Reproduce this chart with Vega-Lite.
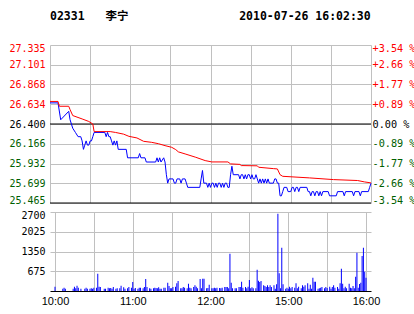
{
  "$schema": "https://vega.github.io/schema/vega-lite/v6.json",
  "padding": {"left": 8, "top": 10, "right": 0, "bottom": 0},
  "background": "white",
  "spacing": 4,
  "config": {
    "view": {"stroke": null},
    "axis": {"gridColor": "#c0c0c0", "gridOpacity": 1, "gridWidth": 1, "ticks": false, "domain": false, "title": null, "labelFont": "DejaVu Sans Mono", "labelFontSize": 10, "labelColor": "#000000", "labelOverlap": false, "labelBound": false, "zindex": 0}
  },
  "datasets": {
    "price": [
      {"m":0,"p":26.65},{"m":6,"p":26.65},{"m":8,"p":26.45},{"m":14,"p":26.55},{"m":15,"p":26.45},{"m":17,"p":26.35},{"m":19,"p":26.30},{"m":21,"p":26.25},{"m":23,"p":26.25},{"m":24,"p":26.20},{"m":25,"p":26.10},{"m":26,"p":26.15},{"m":27,"p":26.20},{"m":28,"p":26.15},{"m":29,"p":26.15},{"m":30,"p":26.20},{"m":31,"p":26.20},{"m":32,"p":26.25},{"m":33,"p":26.30},{"m":41,"p":26.30},{"m":42,"p":26.25},{"m":43,"p":26.30},{"m":44,"p":26.25},{"m":45,"p":26.25},{"m":46,"p":26.20},{"m":47,"p":26.15},{"m":48,"p":26.20},{"m":49,"p":26.15},{"m":50,"p":26.20},{"m":51,"p":26.10},{"m":57,"p":26.10},{"m":58,"p":26.00},{"m":66,"p":26.00},{"m":67,"p":26.05},{"m":68,"p":26.00},{"m":71,"p":26.00},{"m":72,"p":25.95},{"m":79,"p":25.95},{"m":80,"p":26.00},{"m":81,"p":25.95},{"m":82,"p":26.00},{"m":83,"p":25.95},{"m":85,"p":26.00},{"m":86,"p":25.95},{"m":87,"p":25.80},{"m":88,"p":25.70},{"m":89,"p":25.75},{"m":92,"p":25.75},{"m":93,"p":25.70},{"m":94,"p":25.70},{"m":95,"p":25.75},{"m":97,"p":25.75},{"m":98,"p":25.70},{"m":99,"p":25.75},{"m":101,"p":25.75},{"m":102,"p":25.70},{"m":103,"p":25.65},{"m":112,"p":25.65},{"m":113,"p":25.75},{"m":114,"p":25.85},{"m":115,"p":25.70},{"m":117,"p":25.70},{"m":118,"p":25.65},{"m":119,"p":25.70},{"m":120,"p":25.65},{"m":121,"p":25.70},{"m":122,"p":25.70},{"m":123,"p":25.65},{"m":124,"p":25.70},{"m":125,"p":25.65},{"m":126,"p":25.70},{"m":127,"p":25.70},{"m":128,"p":25.65},{"m":129,"p":25.70},{"m":130,"p":25.65},{"m":131,"p":25.70},{"m":132,"p":25.70},{"m":133,"p":25.65},{"m":134,"p":25.65},{"m":135,"p":25.80},{"m":136,"p":25.90},{"m":137,"p":25.80},{"m":141,"p":25.80},{"m":142,"p":25.75},{"m":143,"p":25.80},{"m":144,"p":25.80},{"m":145,"p":25.75},{"m":146,"p":25.80},{"m":147,"p":25.75},{"m":148,"p":25.80},{"m":149,"p":25.80},{"m":150,"p":25.75},{"m":151,"p":25.80},{"m":152,"p":25.75},{"m":153,"p":25.75},{"m":154,"p":25.80},{"m":155,"p":25.75},{"m":156,"p":25.70},{"m":157,"p":25.75},{"m":158,"p":25.70},{"m":159,"p":25.75},{"m":160,"p":25.70},{"m":161,"p":25.75},{"m":162,"p":25.70},{"m":163,"p":25.75},{"m":164,"p":25.70},{"m":167,"p":25.70},{"m":168,"p":25.75},{"m":169,"p":25.75},{"m":170,"p":25.70},{"m":171,"p":25.70},{"m":172,"p":25.55},{"m":173,"p":25.55},{"m":174,"p":25.60},{"m":175,"p":25.65},{"m":177,"p":25.65},{"m":178,"p":25.60},{"m":180,"p":25.60},{"m":181,"p":25.65},{"m":182,"p":25.65},{"m":183,"p":25.60},{"m":184,"p":25.65},{"m":185,"p":25.65},{"m":186,"p":25.60},{"m":187,"p":25.65},{"m":192,"p":25.65},{"m":193,"p":25.60},{"m":194,"p":25.60},{"m":195,"p":25.55},{"m":196,"p":25.60},{"m":197,"p":25.60},{"m":198,"p":25.55},{"m":199,"p":25.60},{"m":200,"p":25.60},{"m":201,"p":25.55},{"m":202,"p":25.60},{"m":203,"p":25.55},{"m":204,"p":25.60},{"m":208,"p":25.60},{"m":209,"p":25.55},{"m":214,"p":25.55},{"m":215,"p":25.60},{"m":219,"p":25.60},{"m":220,"p":25.55},{"m":221,"p":25.60},{"m":226,"p":25.60},{"m":227,"p":25.55},{"m":228,"p":25.60},{"m":231,"p":25.60},{"m":232,"p":25.55},{"m":233,"p":25.60},{"m":238,"p":25.60},{"m":239,"p":25.65},{"m":240,"p":25.70}
    ],
    "avg": [
      {"m":0,"a":26.667},{"m":6,"a":26.667},{"m":7,"a":26.61},{"m":14,"a":26.61},{"m":15,"a":26.57},{"m":17,"a":26.50},{"m":24,"a":26.46},{"m":29,"a":26.43},{"m":32,"a":26.40},{"m":33,"a":26.31},{"m":45,"a":26.31},{"m":49,"a":26.30},{"m":55,"a":26.28},{"m":59,"a":26.254},{"m":65,"a":26.235},{"m":70,"a":26.195},{"m":76,"a":26.183},{"m":81,"a":26.167},{"m":86,"a":26.144},{"m":91,"a":26.124},{"m":94,"a":26.097},{"m":96,"a":26.07},{"m":101,"a":26.046},{"m":109,"a":26.006},{"m":116,"a":25.967},{"m":121,"a":25.951},{"m":133,"a":25.951},{"m":135,"a":25.928},{"m":142,"a":25.922},{"m":143,"a":25.908},{"m":155,"a":25.905},{"m":156,"a":25.888},{"m":167,"a":25.872},{"m":170,"a":25.868},{"m":172,"a":25.80},{"m":174,"a":25.781},{"m":194,"a":25.762},{"m":212,"a":25.742},{"m":230,"a":25.731},{"m":235,"a":25.715},{"m":240,"a":25.703}
    ],
    "refs": [{"v": 26.4}, {"v": 25.465}],
    "vol": [
      {"m":0,"v":148},{"m":6,"v":80},{"m":7,"v":114},{"m":8,"v":80},{"m":14,"v":80},{"m":15,"v":148},{"m":16,"v":91},{"m":17,"v":182},{"m":18,"v":114},{"m":20,"v":80},{"m":23,"v":80},{"m":24,"v":114},{"m":25,"v":80},{"m":27,"v":80},{"m":28,"v":91},{"m":29,"v":80},{"m":30,"v":114},{"m":32,"v":114},{"m":33,"v":592},{"m":34,"v":148},{"m":35,"v":137},{"m":38,"v":80},{"m":39,"v":80},{"m":41,"v":114},{"m":42,"v":91},{"m":43,"v":102},{"m":44,"v":80},{"m":45,"v":137},{"m":47,"v":80},{"m":48,"v":91},{"m":50,"v":91},{"m":51,"v":182},{"m":53,"v":125},{"m":54,"v":80},{"m":56,"v":91},{"m":57,"v":137},{"m":59,"v":114},{"m":60,"v":307},{"m":61,"v":80},{"m":62,"v":102},{"m":64,"v":80},{"m":65,"v":114},{"m":66,"v":114},{"m":68,"v":91},{"m":69,"v":137},{"m":70,"v":410},{"m":71,"v":137},{"m":73,"v":91},{"m":74,"v":80},{"m":76,"v":91},{"m":77,"v":114},{"m":78,"v":102},{"m":79,"v":91},{"m":80,"v":125},{"m":81,"v":80},{"m":82,"v":80},{"m":84,"v":114},{"m":85,"v":114},{"m":87,"v":285},{"m":88,"v":171},{"m":89,"v":91},{"m":90,"v":91},{"m":91,"v":137},{"m":93,"v":148},{"m":94,"v":262},{"m":95,"v":342},{"m":97,"v":91},{"m":98,"v":91},{"m":99,"v":137},{"m":100,"v":114},{"m":102,"v":91},{"m":103,"v":250},{"m":104,"v":114},{"m":105,"v":91},{"m":107,"v":137},{"m":108,"v":194},{"m":109,"v":148},{"m":110,"v":91},{"m":112,"v":410},{"m":113,"v":91},{"m":114,"v":421},{"m":115,"v":421},{"m":117,"v":91},{"m":118,"v":102},{"m":119,"v":216},{"m":121,"v":91},{"m":122,"v":91},{"m":123,"v":114},{"m":124,"v":91},{"m":125,"v":114},{"m":127,"v":102},{"m":128,"v":91},{"m":129,"v":114},{"m":131,"v":137},{"m":132,"v":137},{"m":133,"v":137},{"m":134,"v":91},{"m":135,"v":1276},{"m":136,"v":285},{"m":137,"v":91},{"m":139,"v":91},{"m":140,"v":91},{"m":142,"v":137},{"m":143,"v":137},{"m":144,"v":319},{"m":145,"v":114},{"m":147,"v":137},{"m":148,"v":91},{"m":149,"v":148},{"m":150,"v":376},{"m":151,"v":91},{"m":152,"v":125},{"m":153,"v":91},{"m":155,"v":91},{"m":156,"v":729},{"m":157,"v":353},{"m":158,"v":307},{"m":159,"v":342},{"m":161,"v":194},{"m":162,"v":171},{"m":163,"v":137},{"m":164,"v":194},{"m":165,"v":137},{"m":166,"v":194},{"m":167,"v":137},{"m":169,"v":194},{"m":170,"v":80},{"m":171,"v":228},{"m":172,"v":2643},{"m":173,"v":604},{"m":174,"v":91},{"m":175,"v":1481},{"m":176,"v":228},{"m":178,"v":80},{"m":179,"v":114},{"m":180,"v":80},{"m":181,"v":148},{"m":182,"v":91},{"m":183,"v":137},{"m":185,"v":114},{"m":186,"v":262},{"m":187,"v":91},{"m":188,"v":148},{"m":190,"v":91},{"m":191,"v":194},{"m":192,"v":148},{"m":193,"v":194},{"m":195,"v":262},{"m":196,"v":80},{"m":197,"v":216},{"m":198,"v":80},{"m":199,"v":456},{"m":200,"v":319},{"m":201,"v":319},{"m":203,"v":80},{"m":204,"v":91},{"m":205,"v":114},{"m":206,"v":137},{"m":208,"v":91},{"m":209,"v":137},{"m":210,"v":102},{"m":212,"v":148},{"m":213,"v":80},{"m":214,"v":137},{"m":215,"v":194},{"m":216,"v":114},{"m":218,"v":137},{"m":219,"v":80},{"m":220,"v":262},{"m":221,"v":763},{"m":222,"v":250},{"m":223,"v":91},{"m":224,"v":148},{"m":225,"v":91},{"m":227,"v":250},{"m":228,"v":114},{"m":229,"v":91},{"m":230,"v":171},{"m":231,"v":91},{"m":232,"v":490},{"m":233,"v":1310},{"m":234,"v":114},{"m":235,"v":239},{"m":236,"v":285},{"m":237,"v":1200},{"m":238,"v":1480},{"m":239,"v":661},{"m":240,"v":456}
    ]
  },
  "vconcat": [
    {
      "width": 321,
      "height": 158,
      "title": {
        "text": "02331\u00a0\u00a0\u00a0李宁\u00a0\u00a0\u00a0\u00a0\u00a0\u00a0\u00a0\u00a0\u00a0\u00a0\u00a0\u00a0\u00a0\u00a0\u00a0\u00a02010-07-26 16:02:30",
        "anchor": "start",
        "frame": "group",
        "font": "DejaVu Sans Mono, Noto Sans CJK SC",
        "fontSize": 11.5,
        "fontWeight": "bold",
        "color": "#000000",
        "baseline": "alphabetic",
        "offset": 12
      },
      "layer": [
        {
          "data": {"name": "refs"},
          "mark": {"type": "rule", "color": "#000000", "strokeWidth": 1},
          "encoding": {
            "y": {"field": "v", "type": "quantitative", "scale": {"domain": [25.465, 27.335], "nice": false, "zero": false}, "axis": null}
          }
        },
        {
          "data": {"name": "price"},
          "mark": {"type": "line", "color": "#0000ff", "strokeWidth": 1},
          "encoding": {
            "x": {"field": "m", "type": "quantitative", "scale": {"domain": [0, 240], "nice": false, "zero": false},
                  "axis": {"values": [0, 30, 60, 90, 120, 150, 180, 210, 240], "grid": true, "labels": false, "ticks": false, "domain": false, "labelPadding": 0, "minExtent": 0, "maxExtent": 0, "offset": 0}},
            "y": {"field": "p", "type": "quantitative", "scale": {"domain": [25.465, 27.335], "nice": false, "zero": false},
                  "axis": {"orient": "left", "values": [25.465, 25.699, 25.932, 26.166, 26.4, 26.634, 26.868, 27.101, 27.335], "format": ".3f", "grid": true, "labelPadding": 5, "labelFlush": true, "labelFlushOffset": 2,
                           "labelColor": {"condition": [{"test": "datum.value > 26.41", "value": "#ff0000"}, {"test": "datum.value < 26.39", "value": "#006000"}], "value": "#000000"}}}
          }
        },
        {
          "data": {"name": "avg"},
          "mark": {"type": "line", "color": "#ff0000", "strokeWidth": 1},
          "encoding": {
            "x": {"field": "m", "type": "quantitative"},
            "y": {"field": "a", "type": "quantitative", "scale": {"domain": [25.465, 27.335], "nice": false, "zero": false},
                  "axis": {"orient": "right", "values": [25.465, 25.699, 25.932, 26.166, 26.4, 26.634, 26.868, 27.101, 27.335], "grid": false, "labelPadding": 1, "labelFlush": true, "labelFlushOffset": 2, "labelFontSize": 10.2,
                           "labelExpr": "(datum.value > 26.41 ? '+' : datum.value < 26.39 ? '-' : '\u00a0') + format(abs(datum.value - 26.4) / 26.4 * 100, '.2f') + '\u00a0%'",
                           "labelColor": {"condition": [{"test": "datum.value > 26.41", "value": "#ff0000"}, {"test": "datum.value < 26.39", "value": "#006000"}], "value": "#000000"}}}
          }
        }
      ],
      "resolve": {"axis": {"y": "independent"}}
    },
    {
      "width": 321,
      "height": 79,
      "data": {"name": "vol"},
      "mark": {"type": "bar", "color": "#0000ff", "size": 1, "orient": "vertical"},
      "encoding": {
        "x": {"field": "m", "type": "quantitative", "scale": {"domain": [0, 240], "nice": false, "zero": false},
              "axis": {"values": [0, 30, 60, 90, 120, 150, 180, 210, 240], "grid": true, "domain": true, "domainColor": "#000000", "labelPadding": 4, "labelFlush": false, "labelFont": "Liberation Sans", "labelFontSize": 11,
                       "labelExpr": "datum.value == 0 ? '10:00' : datum.value == 60 ? '11:00' : datum.value == 120 ? '12:00' : datum.value == 180 ? '15:00' : datum.value == 240 ? '16:00' : ''"}},
        "y": {"field": "v", "type": "quantitative", "scale": {"domain": [0, 2700], "nice": false, "zero": true},
              "axis": {"values": [675, 1350, 2025, 2700], "format": "d", "grid": true, "labelPadding": 5, "labelFlush": true, "labelFlushOffset": 2}}
      }
    }
  ]
}
